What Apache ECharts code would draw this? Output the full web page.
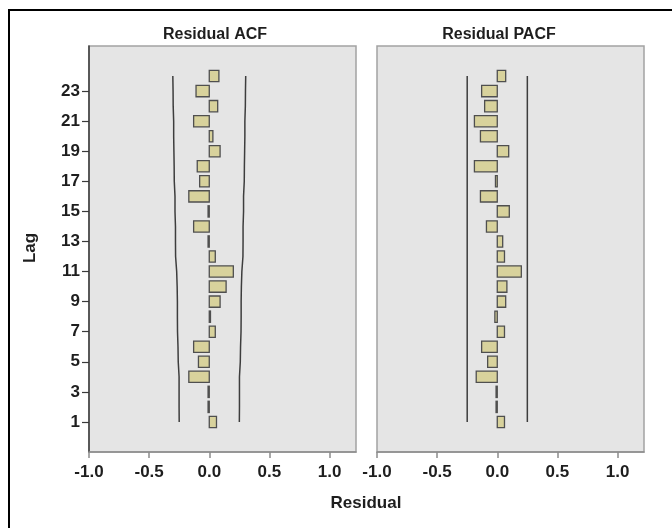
<!DOCTYPE html>
<html>
<head>
<meta charset="utf-8">
<script src="https://cdn.jsdelivr.net/npm/echarts@6/dist/echarts.min.js"></script>
<style>
  html, body { margin: 0; padding: 0; background: #ffffff; }
  #chart { width: 672px; height: 528px; }
</style>
</head>
<body>
<div id="chart"></div>
<script>
// Lags 1..24
const lags = [1, 2, 3, 4, 5, 6, 7, 8, 9, 10, 11, 12, 13, 14, 15, 16, 17, 18, 19, 20, 21, 22, 23, 24];

// Residual autocorrelations by lag
const acfValues = [0.06, -0.01, -0.01, -0.17, -0.09, -0.13, 0.05, 0.01, 0.09, 0.14, 0.20, 0.05,
                   -0.01, -0.13, -0.01, -0.17, -0.08, -0.10, 0.09, 0.03, -0.13, 0.07, -0.11, 0.08];

// Residual partial autocorrelations by lag
const pacfValues = [0.06, -0.01, -0.01, -0.175, -0.08, -0.13, 0.06, -0.02, 0.07, 0.08, 0.20, 0.06,
                    0.045, -0.09, 0.10, -0.14, -0.015, -0.19, 0.095, -0.14, -0.19, -0.105, -0.13, 0.07];

// Upper confidence limit of the ACF per lag (lower limit is its negative)
const acfLimit = [0.250, 0.251, 0.251, 0.251, 0.258, 0.260, 0.264, 0.265, 0.265, 0.267, 0.271, 0.280,
                  0.281, 0.281, 0.285, 0.285, 0.291, 0.292, 0.294, 0.296, 0.296, 0.300, 0.301, 0.303];

// Constant confidence limit of the PACF
const pacfLimit = 0.25;

// Axis tick labels
const lagTicks = [1, 3, 5, 7, 9, 11, 13, 15, 17, 19, 21, 23];
const residualTicks = [-1.0, -0.5, 0.0, 0.5, 1.0];

const FONT = '"Liberation Sans", Arial, sans-serif';
const TEXT_COLOR = '#1e1e1e';
const BAR_FILL = '#d8d29c';
const BAR_EDGE = '#4f4f4f';
const LIMIT_COLOR = '#3d3d3d';

function barRenderer(params, api) {
  const v = api.value(0);
  const lag = api.value(1);
  const p0 = api.coord([0, lag]);
  const p1 = api.coord([v, lag]);
  const h = api.size([0, 1])[1] * 0.75;
  return {
    type: 'rect',
    shape: {
      x: Math.min(p0[0], p1[0]),
      y: p0[1] - h / 2,
      width: Math.abs(p1[0] - p0[0]),
      height: h
    },
    style: { fill: BAR_FILL, stroke: BAR_EDGE, lineWidth: 1.3 }
  };
}

function xAxisFor(gridIndex) {
  return {
    type: 'value', gridIndex: gridIndex, min: -1, max: 1.22, position: 'bottom',
    axisLine: { show: true, onZero: false, lineStyle: { color: '#8c8c8c', width: 1.5 } },
    axisTick: { show: true, customValues: residualTicks, length: 6, lineStyle: { color: '#8c8c8c', width: 1.5 } },
    axisLabel: {
      customValues: residualTicks,
      formatter: v => v.toFixed(1),
      color: TEXT_COLOR, fontFamily: FONT, fontWeight: 'bold', fontSize: 17, margin: 12
    },
    splitLine: { show: false }
  };
}

function yAxisFor(gridIndex, withLabels) {
  return {
    type: 'value', gridIndex: gridIndex, min: -1, max: 26, position: 'left',
    axisLine: { show: withLabels, onZero: false, lineStyle: { color: '#3a3a3a', width: 1.5 } },
    axisTick: { show: withLabels, customValues: lagTicks, length: 7, lineStyle: { color: '#3a3a3a', width: 1.2 } },
    axisLabel: {
      show: withLabels, customValues: lagTicks,
      color: TEXT_COLOR, fontFamily: FONT, fontWeight: 'bold', fontSize: 17, margin: 9
    },
    splitLine: { show: false }
  };
}

const toPairs = vals => vals.map((v, i) => [v, lags[i]]);

const chart = echarts.init(document.getElementById('chart'), null, { renderer: 'canvas' });

chart.setOption({
  animation: false,
  backgroundColor: '#ffffff',
  title: [
    { text: 'Residual ACF', left: 210, top: 22, textAlign: 'center',
      textStyle: { fontFamily: FONT, fontWeight: 'bold', fontSize: 16, color: TEXT_COLOR } },
    { text: 'Residual PACF', left: 494, top: 22, textAlign: 'center',
      textStyle: { fontFamily: FONT, fontWeight: 'bold', fontSize: 16, color: TEXT_COLOR } }
  ],
  grid: [
    { left: 89, top: 46, width: 267, height: 406, show: true,
      backgroundColor: '#e5e5e5', borderColor: '#a2a2a2', borderWidth: 1.5 },
    { left: 377, top: 46, width: 267, height: 406, show: true,
      backgroundColor: '#e5e5e5', borderColor: '#a2a2a2', borderWidth: 1.5 }
  ],
  xAxis: [xAxisFor(0), xAxisFor(1)],
  yAxis: [yAxisFor(0, true), yAxisFor(1, false)],
  graphic: [
    { type: 'rect', shape: { x: 9, y: 10, width: 700, height: 560 },
      style: { fill: 'none', stroke: '#000000', lineWidth: 2 }, silent: true },
    { type: 'text', x: 30, y: 248, rotation: Math.PI / 2,
      style: { text: 'Lag', fontFamily: FONT, fontWeight: 'bold', fontSize: 17, fill: TEXT_COLOR,
               textAlign: 'center', textVerticalAlign: 'middle' } },
    { type: 'text', x: 366, y: 503,
      style: { text: 'Residual', fontFamily: FONT, fontWeight: 'bold', fontSize: 17, fill: TEXT_COLOR,
               textAlign: 'center', textVerticalAlign: 'middle' } }
  ],
  series: [
    { type: 'custom', xAxisIndex: 0, yAxisIndex: 0, renderItem: barRenderer,
      encode: { x: 0, y: 1 }, data: toPairs(acfValues), z: 3 },
    { type: 'line', xAxisIndex: 0, yAxisIndex: 0, data: toPairs(acfLimit),
      symbol: 'none', lineStyle: { color: LIMIT_COLOR, width: 1.5 }, z: 4 },
    { type: 'line', xAxisIndex: 0, yAxisIndex: 0, data: toPairs(acfLimit.map(v => -v)),
      symbol: 'none', lineStyle: { color: LIMIT_COLOR, width: 1.5 }, z: 4 },

    { type: 'custom', xAxisIndex: 1, yAxisIndex: 1, renderItem: barRenderer,
      encode: { x: 0, y: 1 }, data: toPairs(pacfValues), z: 3 },
    { type: 'line', xAxisIndex: 1, yAxisIndex: 1,
      data: [[pacfLimit, lags[0]], [pacfLimit, lags[lags.length - 1]]],
      symbol: 'none', lineStyle: { color: LIMIT_COLOR, width: 1.5 }, z: 4 },
    { type: 'line', xAxisIndex: 1, yAxisIndex: 1,
      data: [[-pacfLimit, lags[0]], [-pacfLimit, lags[lags.length - 1]]],
      symbol: 'none', lineStyle: { color: LIMIT_COLOR, width: 1.5 }, z: 4 }
  ]
});
</script>
</body>
</html>
